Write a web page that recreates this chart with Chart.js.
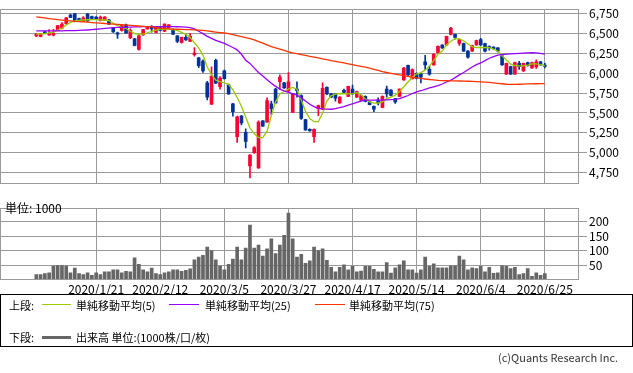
<!DOCTYPE html>
<html>
<head>
<meta charset="utf-8">
<script src="https://cdn.jsdelivr.net/npm/chart.js@4.4.1/dist/chart.umd.min.js"></script>
<style>
  html, body { margin:0; padding:0; background:#fff; }
  body { width:633px; height:373px; overflow:hidden; font-family:"Noto Sans CJK JP","DejaVu Sans",sans-serif; color:#000; }
  #wrap { position:relative; width:633px; height:373px; }
  .abs { position:absolute; white-space:nowrap; }
  #legend { position:absolute; left:0; top:294px; width:631px; height:51px; border:1px solid #000; font-size:11px; }
  .ln { position:absolute; height:0; }
</style>
</head>
<body>
<div id="wrap">
  <canvas id="price" class="abs" style="left:0;top:0" width="633" height="193"></canvas>
  <canvas id="vol" class="abs" style="left:0;top:199px" width="633" height="96"></canvas>
  <div class="abs" style="left:5px;top:201px;font-size:12px;line-height:14px">単位: 1000</div>
  <div id="legend">
    <div class="abs" style="left:8px;top:2px;line-height:16px">上段:</div>
    <div class="ln" style="left:41px;top:9px;width:29px;border-top:1px solid #99cc00"></div>
    <div class="abs" style="left:75px;top:2px;line-height:16px">単純移動平均(5)</div>
    <div class="ln" style="left:168px;top:9px;width:30px;border-top:1px solid #9900ff"></div>
    <div class="abs" style="left:204px;top:2px;line-height:16px">単純移動平均(25)</div>
    <div class="ln" style="left:314px;top:9px;width:30px;border-top:1px solid #ff3300"></div>
    <div class="abs" style="left:348px;top:2px;line-height:16px">単純移動平均(75)</div>
    <div class="abs" style="left:8px;top:34px;line-height:16px">下段:</div>
    <div class="ln" style="left:41px;top:41px;width:29px;border-top:3px solid #666666"></div>
    <div class="abs" style="left:75px;top:34px;line-height:16px">出来高 単位:(1000株/口/枚)</div>
  </div>
  <div class="abs" style="left:498px;top:349px;font-size:11px;line-height:16px;color:#333">(c)Quants Research Inc.</div>
</div>
<script>
// ---- data ----
const tickIndex  = [14, 29, 44, 59, 74, 89, 104, 119];
const tickLabels = ["2020/1/21","2020/2/12","2020/3/5","2020/3/27","2020/4/17","2020/5/14","2020/6/4","2020/6/25"];
const priceTicks = [4750, 5000, 5250, 5500, 5750, 6000, 6250, 6500, 6750];
const volumeTicks = [50, 100, 150, 200];

const openP = [6470,6465,6522,6485,6480,6540,6570,6625,6735,6750,
  6690,6655,6745,6715,6710,6665,6670,6672,6570,6510,
  6540,6611,6449,6435,6300,6484,6560,6585,6515,6576,
  6530,6570,6555,6472,6388,6453,6403,6235,6195,6155,
  5880,5610,6165,5830,6030,5855,5616,5200,5462,5257,
  4833,4998,4806,5400,5385,5616,5800,5894,5880,5778,
  5510,5800,5720,5415,5295,5200,5555,5547,5824,5740,
  5740,5625,5785,5710,5800,5700,5660,5710,5640,5585,
  5662,5570,5800,5790,5680,5710,5915,6100,5932,6000,
  5990,6145,6050,6105,6260,6357,6357,6490,6490,6376,
  6376,6280,6280,6357,6426,6376,6337,6330,6320,6220,
  5990,6085,5990,6125,6030,6135,6068,6080,6145,6105];
const highP = [6505,6505,6530,6550,6555,6605,6640,6705,6745,6756,
  6695,6715,6755,6720,6715,6720,6715,6680,6578,6518,
  6610,6620,6560,6442,6480,6555,6592,6600,6592,6585,
  6625,6615,6560,6476,6458,6490,6500,6325,6200,6170,
  5900,6080,6180,5960,6040,5865,5620,5460,5470,5300,
  4975,5075,5400,5405,5690,5650,5810,5980,5885,6010,
  5745,5894,5730,5420,5300,5300,5600,5880,5830,5748,
  5745,5705,5800,5840,5850,5775,5725,5715,5645,5590,
  5690,5715,5840,5795,5685,5805,6075,6105,6055,6005,
  5995,6225,6090,6250,6345,6362,6470,6580,6495,6430,
  6380,6285,6355,6420,6440,6380,6345,6335,6325,6225,
  6130,6090,6140,6150,6130,6140,6140,6170,6150,6125];
const lowP = [6462,6460,6495,6478,6470,6535,6560,6618,6700,6648,
  6658,6650,6655,6688,6680,6660,6665,6615,6515,6440,
  6530,6505,6435,6345,6290,6478,6555,6520,6510,6535,
  6525,6565,6488,6385,6380,6415,6398,6215,6070,6010,
  5665,5605,5868,5800,5925,5735,5460,5130,5350,5060,
  4680,4990,4800,5330,5380,5480,5620,5795,5810,5760,
  5505,5700,5420,5280,5270,5130,5465,5540,5730,5695,
  5650,5620,5745,5705,5735,5695,5655,5640,5600,5515,
  5600,5565,5700,5715,5620,5705,5910,5970,5925,5930,
  5880,6050,5975,6100,6255,6315,6350,6485,6430,6350,
  6275,6190,6275,6350,6350,6270,6290,6300,6270,6100,
  5985,5985,5985,6050,6025,6090,6062,6060,6100,6068];
const closeP = [6490,6500,6500,6500,6500,6600,6620,6700,6705,6655,
  6665,6700,6660,6692,6685,6710,6710,6620,6522,6492,
  6600,6507,6542,6350,6472,6550,6588,6560,6588,6540,
  6620,6610,6492,6403,6453,6422,6465,6255,6095,6030,
  5700,5963,5875,5940,5932,5740,5515,5450,5373,5142,
  4968,5065,5385,5335,5655,5555,5625,5952,5815,5894,
  5740,5780,5431,5285,5275,5295,5593,5810,5740,5700,
  5685,5700,5760,5835,5740,5770,5720,5645,5605,5547,
  5625,5710,5740,5720,5640,5800,6067,5978,6048,5935,
  5950,6105,5990,6240,6340,6320,6465,6570,6453,6425,
  6280,6203,6350,6414,6357,6280,6320,6310,6280,6105,
  6125,5990,6135,6085,6125,6095,6135,6145,6105,6088];
const volume = [19,19,22,25,48,50,50,48,25,41,
  22,19,25,16,25,19,28,28,35,35,
  25,30,28,76,54,35,28,41,22,19,
  25,28,35,35,30,33,38,69,79,85,
  113,101,69,48,35,54,72,113,69,110,
  189,110,120,82,107,142,91,120,154,230,
  142,79,88,57,66,113,101,107,68,44,
  28,44,52,35,47,28,31,47,47,37,
  28,28,60,24,42,52,66,35,35,24,
  35,79,47,56,42,42,42,49,49,82,
  69,35,42,39,47,28,44,23,25,49,
  47,39,44,19,22,39,13,25,16,22];
const ma5 = [6492,6496,6500,6510,6519,6545,6568,6610,6640,6660,
  6668,6672,6675,6677,6676,6674,6672,6665,6630,6600,
  6580,6565,6530,6500,6492,6495,6510,6530,6545,6557,
  6557,6557,6550,6540,6515,6490,6450,6385,6320,6230,
  6080,5985,5913,5894,5880,5860,5790,5695,5585,5450,
  5310,5240,5190,5190,5270,5465,5640,5740,5770,5800,
  5822,5800,5662,5520,5430,5390,5390,5500,5650,5715,
  5738,5745,5742,5740,5740,5755,5730,5675,5640,5624,
  5624,5640,5680,5700,5725,5770,5830,5890,5950,5990,
  6008,6040,6090,6160,6240,6280,6357,6405,6438,6435,
  6410,6370,6337,6325,6325,6325,6322,6305,6278,6222,
  6168,6118,6098,6094,6094,6103,6118,6118,6110,6094];
const ma25 = [6535,6535,6535,6535,6535,6536,6536,6537,6537,6538,
  6540,6543,6546,6550,6555,6560,6565,6570,6575,6578,
  6578,6580,6582,6584,6586,6588,6588,6588,6588,6588,
  6588,6588,6588,6587,6585,6582,6575,6560,6530,6500,
  6465,6440,6415,6395,6376,6350,6325,6295,6240,6165,
  6125,6065,6010,5965,5920,5875,5835,5800,5778,5760,
  5745,5725,5690,5650,5610,5580,5558,5552,5548,5547,
  5555,5566,5580,5598,5616,5632,5648,5662,5662,5662,
  5662,5663,5665,5667,5670,5680,5700,5720,5745,5765,
  5780,5798,5815,5830,5845,5865,5890,5913,5945,5980,
  6010,6045,6080,6110,6130,6160,6190,6210,6228,6236,
  6242,6246,6249,6252,6255,6258,6260,6258,6250,6241];
const ma75 = [6712,6705,6698,6690,6683,6676,6670,6665,6660,6655,
  6652,6648,6644,6640,6636,6632,6628,6624,6620,6616,
  6612,6608,6604,6600,6596,6592,6588,6584,6578,6570,
  6565,6560,6557,6555,6553,6551,6550,6548,6545,6540,
  6534,6527,6520,6514,6508,6500,6488,6475,6462,6450,
  6437,6420,6400,6380,6358,6337,6320,6305,6290,6270,
  6258,6248,6236,6225,6214,6205,6194,6183,6172,6160,
  6150,6140,6130,6120,6108,6098,6088,6078,6064,6050,
  6036,6022,6010,6000,5990,5980,5970,5960,5950,5942,
  5935,5928,5922,5916,5911,5908,5906,5905,5904,5903,
  5902,5900,5898,5895,5892,5889,5886,5880,5874,5868,
  5862,5860,5860,5862,5864,5866,5867,5868,5869,5870];

// ---- styling ----
const UP = '#ff0033', DOWN = '#003399', GRID = '#9a9a9a';
Chart.defaults.font.family = '"Noto Sans CJK JP","DejaVu Sans",sans-serif';
Chart.defaults.font.size = 12;
Chart.defaults.color = '#000';
Chart.defaults.animation = false;

const idx = openP.map((_, i) => i);
const candleColor = idx.map(i => closeP[i] >= openP[i] ? UP : DOWN);

const frame = {
  id: 'frame',
  afterDraw(chart) {
    const { ctx, chartArea: a } = chart;
    ctx.save();
    ctx.strokeStyle = GRID; ctx.lineWidth = 1;
    ctx.strokeRect(Math.round(a.left) + 0.5, Math.round(a.top) + 0.5,
                   Math.round(a.right - a.left) - 1, Math.round(a.bottom - a.top) - 1);
    ctx.restore();
  }
};

function xScale(showLabels) {
  return {
    type: 'linear', min: -8.5, max: 127, offset: false,
    afterBuildTicks: s => { s.ticks = tickIndex.map(v => ({ value: v })); },
    afterFit: s => { s.height = showLabels ? 15 : 0; },
    grid: { color: GRID, drawTicks: false, offset: false },
    border: { display: false },
    ticks: {
      display: showLabels, autoSkip: false, maxRotation: 0, padding: 2,
      callback: v => tickLabels[tickIndex.indexOf(v)]
    }
  };
}

function lineDs(data, color) {
  return {
    type: 'line', data: idx.map(i => ({ x: i, y: data[i] })),
    borderColor: color, borderWidth: 1.3, pointRadius: 0, tension: 0, order: 0
  };
}

new Chart(document.getElementById('price'), {
  type: 'bar',
  data: {
    datasets: [
      { type: 'bar', data: idx.map(i => ({ x: i, y: [lowP[i], highP[i]] })),
        backgroundColor: candleColor, barThickness: 1, grouped: false, order: 2 },
      { type: 'bar', data: idx.map(i => ({ x: i, y: [openP[i], closeP[i]] })),
        backgroundColor: candleColor, barThickness: 3, minBarLength: 1, grouped: false, order: 1 },
      lineDs(ma75, '#ff3300'),
      lineDs(ma25, '#9900ff'),
      lineDs(ma5, '#99cc00')
    ]
  },
  options: {
    responsive: false, devicePixelRatio: 1,
    layout: { padding: { top: 1, bottom: 1, left: 0, right: 0 } },
    plugins: { legend: { display: false }, tooltip: { enabled: false } },
    scales: {
      x: xScale(false),
      y: {
        position: 'right', min: 4607, max: 6808,
        afterBuildTicks: s => { s.ticks = priceTicks.map(v => ({ value: v })); },
        afterFit: s => { s.width = 54; },
        grid: { color: GRID, tickLength: 8 },
        border: { display: false },
        ticks: { padding: 2, callback: v => v.toLocaleString('en-US') }
      }
    }
  },
  plugins: [frame]
});

new Chart(document.getElementById('vol'), {
  type: 'bar',
  data: {
    datasets: [
      { data: idx.map(i => ({ x: i, y: volume[i] })), backgroundColor: '#666666',
        barThickness: 3, grouped: false }
    ]
  },
  options: {
    responsive: false, devicePixelRatio: 1,
    layout: { padding: { top: 2, bottom: 0, left: 0, right: 0 } },
    plugins: { legend: { display: false }, tooltip: { enabled: false } },
    scales: {
      x: xScale(true),
      y: {
        position: 'right', min: 0, max: 247,
        afterBuildTicks: s => { s.ticks = volumeTicks.map(v => ({ value: v })); },
        afterFit: s => { s.width = 54; },
        grid: { color: GRID, tickLength: 8 },
        border: { display: false },
        ticks: { padding: 2 }
      }
    }
  },
  plugins: [frame]
});
</script>
</body>
</html>
